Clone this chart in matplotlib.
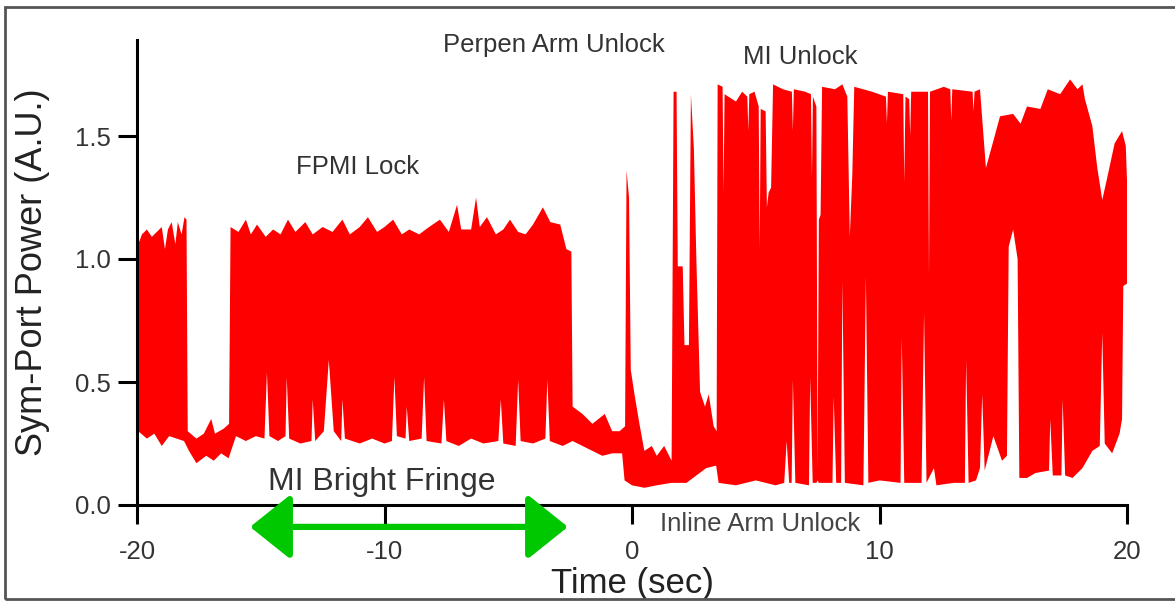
import matplotlib
matplotlib.use("Agg")
import matplotlib.pyplot as plt
from matplotlib.patches import Rectangle
import numpy as np

plt.rcParams['font.family'] = ['Liberation Sans', 'DejaVu Sans']
plt.rcParams['axes.unicode_minus'] = False

# upper edge of the recorded trace (time in s, power in A.U.)
top_t = [-20.0, -19.95, -19.8, -19.6, -19.4, -19.2, -19.0, -18.87, -18.75, -18.6,
         -18.45, -18.35, -18.2, -18.08, -18.0, -17.95, -17.6, -17.3, -17.0, -16.85,
         -16.5, -16.28, -16.22, -15.9, -15.6, -15.4, -15.15, -14.8, -14.5, -14.2,
         -13.9, -13.6, -13.2, -12.9, -12.5, -12.1, -11.7, -11.4, -11.0, -10.67,
         -10.3, -10.0, -9.65, -9.3, -9.0, -8.6, -8.2, -7.76, -7.4, -7.07,
         -6.9, -6.5, -6.3, -6.15, -5.86, -5.5, -5.2, -4.93, -4.6, -4.3,
         -4.0, -3.6, -3.3, -2.9, -2.65, -2.45, -2.40, -2.0, -1.6, -1.1,
         -0.8, -0.5, -0.28, -0.22, -0.12, -0.05, 0.1, 0.3, 0.5, 0.8,
         1.0, 1.3, 1.6, 1.68, 1.8, 1.85, 2.05, 2.12, 2.3, 2.38,
         2.5, 2.6, 2.75, 2.95, 3.1, 3.3, 3.42, 3.46, 3.66, 3.70,
         3.74, 4.2, 4.45, 4.66, 4.70, 4.74, 4.95, 5.12, 5.16, 5.20,
         5.40, 5.45, 5.52, 5.62, 5.70, 6.1, 6.46, 6.50, 6.54, 7.0,
         7.23, 7.27, 7.31, 7.45, 7.50, 7.55, 7.62, 7.68, 8.2, 8.5,
         8.7, 8.8, 8.9, 8.98, 9.7, 10.26, 10.3, 10.34, 10.96, 11.0,
         11.05, 11.2, 11.24, 11.28, 11.96, 12.0, 12.04, 12.6, 12.86, 12.9,
         12.94, 13.76, 13.8, 13.84, 14.06, 14.3, 14.6, 14.87, 15.4, 15.7,
         15.96, 16.5, 16.8, 17.3, 17.7, 18.0, 18.2, 18.3, 18.6, 18.8,
         19.0, 19.2, 19.5, 19.8, 19.95, 20.0]
top_v = [0.0, 1.06, 1.10, 1.12, 1.09, 1.11, 1.13, 1.04, 1.12, 1.15,
         1.06, 1.15, 1.10, 1.17, 1.16, 0.30, 0.27, 0.29, 0.35, 0.29,
         0.31, 0.33, 1.13, 1.11, 1.16, 1.10, 1.14, 1.09, 1.12, 1.10,
         1.16, 1.11, 1.15, 1.10, 1.13, 1.11, 1.16, 1.10, 1.13, 1.17,
         1.11, 1.13, 1.16, 1.10, 1.12, 1.10, 1.13, 1.16, 1.11, 1.22,
         1.12, 1.12, 1.25, 1.13, 1.17, 1.10, 1.12, 1.16, 1.11, 1.10,
         1.14, 1.21, 1.15, 1.14, 1.04, 1.03, 0.40, 0.37, 0.33, 0.37,
         0.30, 0.30, 0.32, 1.36, 1.25, 0.55, 0.45, 0.33, 0.22, 0.24,
         0.20, 0.24, 0.18, 1.68, 1.68, 0.97, 0.97, 0.65, 0.65, 1.67,
         1.45, 1.00, 0.46, 0.40, 0.45, 0.32, 0.30, 1.71, 1.70, 1.27,
         1.67, 1.64, 1.68, 1.66, 1.52, 1.67, 1.68, 1.62, 1.04, 1.61,
         1.60, 1.21, 1.27, 1.29, 1.71, 1.69, 1.68, 1.52, 1.69, 1.68,
         1.67, 1.33, 1.66, 1.62, 0.14, 1.16, 1.18, 1.70, 1.69, 1.71,
         1.66, 1.09, 1.34, 1.70, 1.68, 1.66, 1.55, 1.68, 1.67, 1.31,
         1.66, 1.65, 1.50, 1.68, 1.68, 0.93, 1.68, 1.70, 1.69, 1.56,
         1.69, 1.68, 1.60, 1.68, 1.69, 1.37, 1.48, 1.58, 1.59, 1.55,
         1.62, 1.61, 1.69, 1.67, 1.73, 1.69, 1.71, 1.65, 1.54, 1.37,
         1.24, 1.33, 1.47, 1.52, 1.46, 1.32]

# lower edge of the recorded trace
bot_t = [-20.0, -19.95, -19.6, -19.3, -19.0, -18.7, -18.4, -18.1, -17.9, -17.6,
         -17.2, -16.9, -16.6, -16.3, -16.0, -15.6, -15.2, -14.85, -14.75, -14.65,
         -14.3, -14.0, -13.95, -13.85, -13.4, -12.95, -12.9, -12.8, -12.45, -12.25,
         -12.05, -11.75, -11.7, -11.6, -11.0, -10.5, -10.0, -9.7, -9.6, -9.5,
         -9.15, -9.1, -9.0, -8.5, -8.4, -8.3, -7.7, -7.6, -7.5, -7.0,
         -6.5, -6.0, -5.4, -5.3, -5.2, -4.7, -4.6, -4.5, -4.0, -3.5,
         -3.42, -3.32, -2.8, -2.4, -2.0, -1.6, -1.2, -0.8, -0.4, -0.3,
         0.0, 0.5, 1.0, 1.6, 2.2, 2.6, 3.0, 3.4, 3.5, 4.2,
         5.0, 5.8, 6.15, 6.25, 6.35, 6.45, 6.5, 6.6, 7.15, 7.2,
         7.3, 7.45, 7.5, 7.55, 8.1, 8.15, 8.25, 8.45, 8.5, 8.6,
         9.35, 9.45, 9.55, 10.0, 10.85, 10.9, 11.0, 11.7, 11.8, 11.9,
         12.2, 12.3, 13.0, 13.45, 13.5, 13.6, 13.9, 14.06, 14.15, 14.25,
         14.6, 14.95, 15.15, 15.22, 15.4, 15.58, 15.65, 15.96, 16.3, 16.85,
         16.9, 17.0, 17.35, 17.4, 17.5, 17.8, 18.2, 18.6, 18.9, 19.0,
         19.1, 19.4, 19.7, 19.8, 19.85, 20.0]
bot_v = [0.0, 0.30, 0.27, 0.29, 0.24, 0.28, 0.27, 0.26, 0.22, 0.17,
         0.20, 0.18, 0.21, 0.19, 0.28, 0.26, 0.28, 0.27, 0.54, 0.28,
         0.26, 0.28, 0.52, 0.27, 0.25, 0.26, 0.43, 0.26, 0.30, 0.59,
         0.30, 0.26, 0.43, 0.27, 0.25, 0.27, 0.25, 0.26, 0.52, 0.28,
         0.27, 0.40, 0.26, 0.27, 0.52, 0.26, 0.25, 0.43, 0.26, 0.24,
         0.27, 0.25, 0.26, 0.43, 0.25, 0.24, 0.51, 0.26, 0.25, 0.27,
         0.51, 0.26, 0.24, 0.26, 0.24, 0.22, 0.20, 0.21, 0.21, 0.10,
         0.08, 0.07, 0.08, 0.09, 0.09, 0.12, 0.15, 0.16, 0.09, 0.08,
         0.10, 0.08, 0.09, 0.26, 0.09, 0.09, 0.51, 0.09, 0.08, 0.52,
         0.09, 0.09, 0.10, 0.09, 0.09, 0.44, 0.09, 0.09, 0.91, 0.09,
         0.08, 0.93, 0.09, 0.10, 0.09, 0.68, 0.09, 0.09, 0.78, 0.09,
         0.15, 0.08, 0.09, 0.09, 0.59, 0.09, 0.10, 0.15, 0.45, 0.14,
         0.28, 0.18, 0.20, 1.05, 1.12, 1.00, 0.11, 0.11, 0.13, 0.14,
         0.35, 0.12, 0.12, 0.43, 0.12, 0.11, 0.15, 0.22, 0.24, 0.70,
         0.25, 0.21, 0.29, 0.35, 0.89, 0.90]

assert len(top_t) == len(top_v) and len(bot_t) == len(bot_v)

x_ticks = [-20, -10, 0, 10, 20]
y_ticks = [0.0, 0.5, 1.0, 1.5]
y_tick_labels = ['0.0', '0.5', '1.0', '1.5']

# event labels: text, time, power, font size
events = [
    ('FPMI Lock', -11.07, 1.374, 18.5),
    ('Perpen Arm Unlock', -3.15, 1.87, 18.5),
    ('MI Unlock', 6.79, 1.82, 18.5),
    ('MI Bright Fringe', -10.1, 0.093, 23),
]
fringe_span = (-15.43, -2.59)

fig = plt.figure(figsize=(11.75, 6.01), dpi=100)
ax = fig.add_axes([137 / 1175, 96 / 601, 990 / 1175, 465 / 601])

# trace drawn as the area between its upper and lower edges
poly_t = np.concatenate([top_t, bot_t[::-1]])
poly_v = np.concatenate([top_v, bot_v[::-1]])
ax.fill(poly_t, poly_v, facecolor='#ff0000', edgecolor='none', lw=0, zorder=2)

ax.set_xlim(-20, 20)
ax.set_ylim(0, 465 / 246)
ax.set_xticks(x_ticks)
ax.set_yticks(y_ticks)
ax.set_yticklabels(y_tick_labels)
ax.tick_params(direction='out', length=14, width=2.2, labelsize=18.5,
               labelcolor='#333333', color='black')
ax.tick_params(axis='x', pad=11)
ax.tick_params(axis='y', pad=5)
for side in ['top', 'right']:
    ax.spines[side].set_visible(False)
for side in ['left', 'bottom']:
    ax.spines[side].set_linewidth(2.2)

ax.set_xlabel('Time (sec)', fontsize=25, color='#222222', labelpad=2)
ax.set_ylabel('Sym-Port Power (A.U.)', fontsize=26, color='#222222', labelpad=18)

for txt, tx, ty, fs in events:
    ax.text(tx, ty, txt, fontsize=fs, color='#333333', ha='center', va='center',
            clip_on=False, zorder=5)

ax.text(5.17, -0.077, 'Inline Arm Unlock', fontsize=18.5, color='#444444',
        ha='center', va='center', clip_on=False, zorder=6,
        bbox=dict(facecolor='white', edgecolor='none', alpha=0.85, pad=1.5))

ax.annotate('', xy=(fringe_span[0], -0.089), xytext=(fringe_span[1], -0.089),
            xycoords='data', annotation_clip=False,
            arrowprops=dict(arrowstyle='<|-|>,head_length=25,head_width=20',
                            mutation_scale=1, lw=4.5, color='#00c800',
                            shrinkA=0, shrinkB=0))

fig.add_artist(Rectangle((5 / 1175, 2 / 601), 1180 / 1175, 592 / 601,
                         transform=fig.transFigure, fill=False,
                         edgecolor='#555555', lw=2))

fig.savefig('out.png', dpi=100)
